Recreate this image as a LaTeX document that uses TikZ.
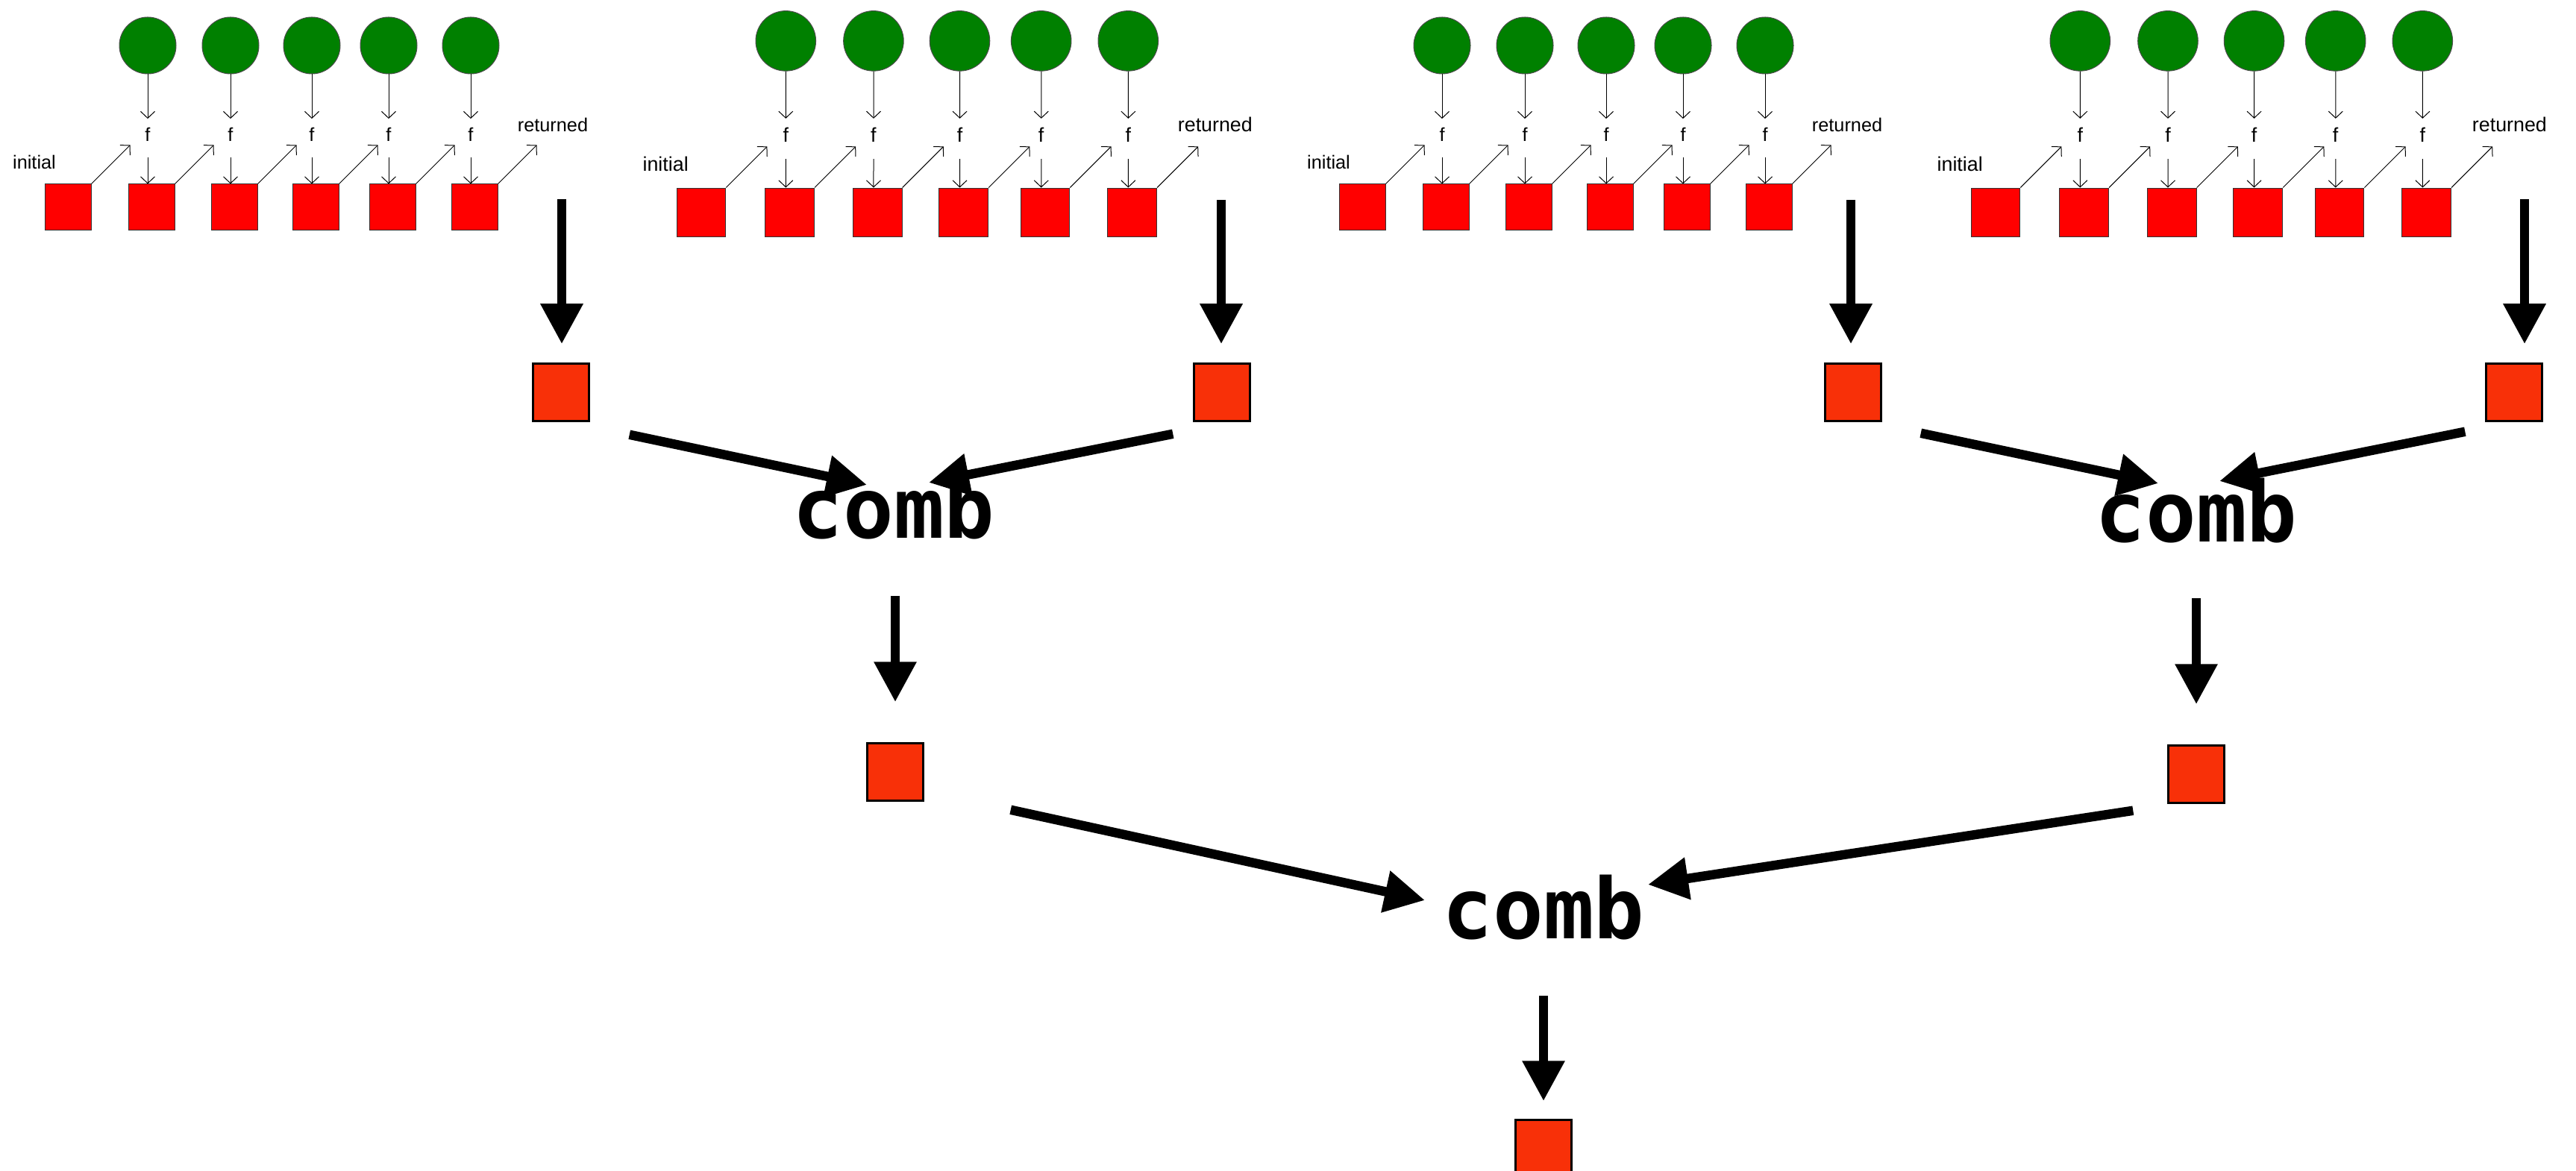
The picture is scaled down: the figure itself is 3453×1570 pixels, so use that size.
\documentclass[tikz,border=0pt]{standalone}
\usepackage{fontspec}
\setmainfont{Liberation Sans}
\newfontfamily\combfont{DejaVu Sans Mono}
\usetikzlibrary{arrows.meta}
\definecolor{leafgreen}{RGB}{0,128,0}
\definecolor{partred}{RGB}{248,48,8}

\begin{document}
\begin{tikzpicture}[x=.1mm,y=-.1mm,
    elem/.style={draw=black!80,fill=red,line width=.1mm,
      minimum width=6.2mm,minimum height=6.2mm,inner sep=0pt},
    item/.style={circle,draw=black!70,fill=leafgreen,line width=.1mm,
      minimum size=7.6mm,inner sep=0pt},
    fn/.style={font=\fontsize{7.2}{8}\selectfont,inner xsep=0pt,inner ysep=1.1mm},
    lbl/.style={font=\fontsize{7.2}{8}\selectfont,inner sep=0pt},
    thinarrow/.style={-{Straight Barb[length=.9mm,width=1.9mm]},line width=.1mm},
    res/.style={draw,fill=partred,line width=.25mm,
      minimum width=7.5mm,minimum height=7.7mm,inner sep=0pt},
    combtext/.style={font=\combfont\bfseries\fontsize{32}{32}\selectfont,
      inner sep=0pt,anchor=base},
    bigarrow/.style={-{Triangle[length=5.4mm,width=5.4mm]},line width=1.25mm}]
\useasboundingbox (0,0) rectangle (3453,1570);

\foreach \g/\gx/\gs in {1/60/1, 2/907/1.06, 3/1795/1, 4/2642/1.06} {
  \begin{scope}[shift={(\gx,163)},scale=\gs,transform shape,name prefix=g\g-]
    \node [elem] (s0)  at ( 31,115) {};
    \node [lbl]  (ini) at (-14, 54) {initial};
    \node [lbl]  (ret) at (681,  4) {returned};
    \draw [thinarrow] (s0.north east) -- ++(52,-52);
    \foreach \i/\sx in {1/143, 2/254, 3/363, 4/466, 5/576} {
      \node [elem] (s\i) at (\sx,115)    {};
      \node [item] (c\i) at (\sx-5,-102) {};
      \node [fn]   (f\i) at (\sx-5,17)   {f};
      \draw [thinarrow] (c\i) -- (f\i);
      \draw [thinarrow,shorten <=1mm] (f\i) -- (f\i |- s\i.north);
      \draw [thinarrow] (s\i.north east) -- ++(52,-52);
    }
  \end{scope}
}

\node [res] (r1) at ( 752,526) {};
\node [res] (r2) at (1638,526) {};
\node [res] (r3) at (2484,526) {};
\node [res] (r4) at (3370,526) {};
\coordinate (o1) at ( 753,267);
\coordinate (o2) at (1637,268);
\coordinate (o3) at (2481,268);
\coordinate (o4) at (3384,267);
\foreach \k in {1,2,3,4}
  \draw [bigarrow,shorten >=2.5mm] (o\k) -- (o\k |- r\k.north);

\node [combtext] (k1) at (1198, 722) {comb};
\node [combtext] (k2) at (2944, 727) {comb};
\node [combtext] (k3) at (2069,1258) {comb};
\node [res] (r5) at (1200,1035) {};
\node [res] (r6) at (2944,1038) {};
\node [res] (r7) at (2069,1540) {};

\draw [bigarrow] ([shift={( 53,17)}]r1.south east) -- ([shift={(-36,-72)}]k1.base);
\draw [bigarrow] ([shift={(-27,16)}]r2.south west) -- ([shift={( 47,-75)}]k1.base);
\draw [bigarrow] ([shift={( 52,15)}]r3.south east) -- ([shift={(-51,-79)}]k2.base);
\draw [bigarrow] ([shift={(-27,13)}]r4.south west) -- ([shift={( 31,-82)}]k2.base);
\draw [bigarrow] ([shift={(2,77)}]k1.base) -- ([shift={(0,-54)}]r5.north);
\draw [bigarrow] ([shift={(0,75)}]k2.base) -- ([shift={(0,-54)}]r6.north);
\draw [bigarrow] ([shift={(116,11)}]r5.south east) -- ([shift={(-159,-51)}]k3.base);
\draw [bigarrow] ([shift={(-46, 9)}]r6.south west) -- ([shift={( 140,-72)}]k3.base);
\draw [bigarrow] ([shift={(0,77)}]k3.base) -- ([shift={(0,-24)}]r7.north);
\end{tikzpicture}
\end{document}
